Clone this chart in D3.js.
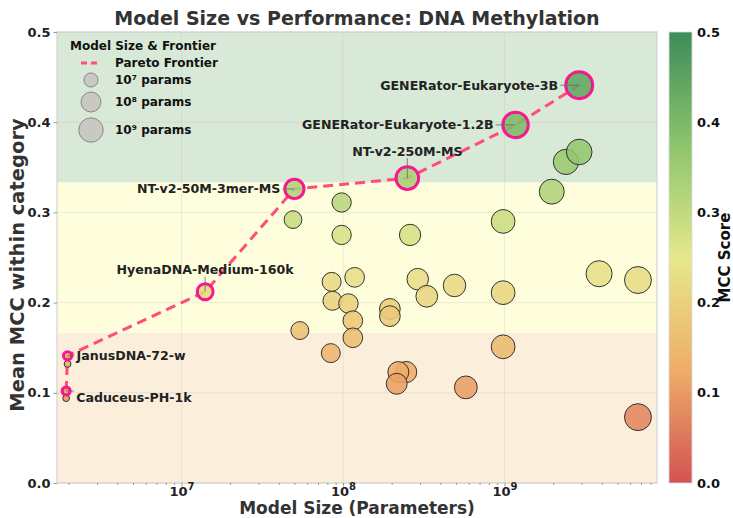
<!DOCTYPE html>
<html>
<head>
<meta charset="utf-8">
<script src="https://cdn.jsdelivr.net/npm/d3@7"></script>
<style>
  body { margin: 0; background: #fff; }
  text { font-family: "DejaVu Sans", sans-serif; font-weight: bold; }
</style>
</head>
<body>
<svg width="733" height="518"></svg>
<script>
// data: parameters and mean MCC
var otherParams = [4.9e7, 9.8e7, 9.8e7, 2.6e8, 9.8e8, 1.96e9, 2.4e9, 2.9e9,
    8.5e7, 1.18e8, 2.9e8, 4.9e8, 3.3e8, 9.8e8, 8.6e7, 1.08e8, 1.15e8, 1.95e8,
    1.95e8, 5.4e7, 1.15e8, 8.4e7, 9.8e8, 2.46e8, 2.2e8, 2.15e8, 5.76e8,
    3.85e9, 6.7e9, 6.7e9, 1.93e6, 1.97e6];
var otherMcc = [0.292, 0.311, 0.275, 0.275, 0.290, 0.323, 0.356, 0.367,
    0.223, 0.228, 0.226, 0.219, 0.207, 0.211, 0.202, 0.199, 0.180, 0.193,
    0.185, 0.169, 0.161, 0.144, 0.151, 0.123, 0.123, 0.110, 0.106,
    0.232, 0.225, 0.073, 0.094, 0.132];

var frontierNames = ["Caduceus-PH-1k", "JanusDNA-72-w", "HyenaDNA-Medium-160k",
    "NT-v2-50M-3mer-MS", "NT-v2-250M-MS", "GENERator-Eukaryote-1.2B", "GENERator-Eukaryote-3B"];
var frontierParams = [1.93e6, 1.97e6, 1.4e7, 5e7, 2.5e8, 1.17e9, 2.9e9];
var frontierMcc = [0.102, 0.141, 0.212, 0.326, 0.338, 0.397, 0.441];

var yTicks = [0, 0.1, 0.2, 0.3, 0.4, 0.5];
var xTicks = [1e7, 1e8, 1e9];
var legendSizes = [1e7, 1e8, 1e9];
var bandEdges = [0, 1/6, 1/3, 0.5];
var bandColors = ["#fbefdc", "#fefedd", "#d9e9d7"];

var svg = d3.select("svg");
var L = 57, R = 657, T = 32, B = 483;

var x = d3.scaleLog().domain([1.694e6, 8.79e9]).range([L, R]);
var y = d3.scaleLinear().domain([0, 0.5]).range([B, T]);
// bubble area grows with log10(params) above ~10^6
var r = d3.scaleSqrt().domain([0, 3.95]).range([0, Math.sqrt(48 * 3.95)]);
var color = d3.scaleLinear()
    .domain([0, 0.125, 0.25, 0.375, 0.5])
    .range(["#d35252", "#eead68", "#e6e88c", "#8cc46c", "#3d8c5a"]);

function rad(p) { return r(Math.max(0, Math.log10(p) - 6.05)); }

// background bands
svg.append("g").selectAll("rect")
    .data(bandColors)
    .enter()
    .append("rect")
    .attr("x", L)
    .attr("width", R - L)
    .attr("y", function(d, i) { return y(bandEdges[i + 1]); })
    .attr("height", function(d, i) { return y(bandEdges[i]) - y(bandEdges[i + 1]); })
    .style("fill", function(d) { return d; });

// grid
var grid = svg.append("g").style("stroke", "#b8b8b8").style("stroke-opacity", 0.35).style("stroke-width", 0.8);
grid.selectAll("line.gy").data(yTicks).enter().append("line")
    .attr("x1", L).attr("x2", R)
    .attr("y1", function(d) { return y(d); }).attr("y2", function(d) { return y(d); });
grid.selectAll("line.gx").data(xTicks).enter().append("line")
    .attr("y1", T).attr("y2", B)
    .attr("x1", function(d) { return x(d); }).attr("x2", function(d) { return x(d); });

// frame
svg.append("rect")
    .attr("x", L).attr("y", T).attr("width", R - L).attr("height", B - T)
    .style("fill", "none").style("stroke", "#cccccc").style("stroke-width", 1);

// y axis
var yAxis = svg.append("g")
    .attr("transform", "translate(" + L + ",0)")
    .call(d3.axisLeft(y).tickValues(yTicks).tickFormat(d3.format(".1f")).tickSize(3.5).tickPadding(3));
yAxis.select(".domain").remove();
yAxis.selectAll("line").style("stroke", "#999");
yAxis.selectAll("text").style("font-size", "13px").style("fill", "#222").style("font-family", "DejaVu Sans").style("font-weight", "bold");

// x axis with minor ticks
var minor = [];
for (var e = 6; e <= 9; e++) {
    for (var m = 2; m <= 9; m++) {
        var v = m * Math.pow(10, e);
        if (v > x.domain()[0] && v < x.domain()[1]) minor.push(v);
    }
}
var xMinor = svg.append("g")
    .attr("transform", "translate(0," + B + ")")
    .call(d3.axisBottom(x).tickValues(minor).tickFormat("").tickSize(2));
xMinor.select(".domain").remove();
xMinor.selectAll("line").style("stroke", "#999");

var xAxis = svg.append("g")
    .attr("transform", "translate(0," + B + ")")
    .call(d3.axisBottom(x).tickValues(xTicks).tickFormat("").tickSize(3.5));
xAxis.select(".domain").remove();
xAxis.selectAll("line").style("stroke", "#999");
var xLab = xAxis.selectAll(".tick").append("text")
    .attr("y", 12.5)
    .attr("text-anchor", "middle")
    .style("fill", "#222")
    .style("font-size", "13px");
xLab.append("tspan").text("10");
xLab.append("tspan")
    .attr("dy", -6)
    .style("font-size", "10px")
    .text(function(d) { return Math.round(Math.log10(d)); });

// frontier line
var line = d3.line()
    .x(function(d) { return x(d[0]); })
    .y(function(d) { return y(d[1]); });
svg.append("path")
    .datum(d3.zip(frontierParams, frontierMcc))
    .attr("d", line)
    .style("fill", "none")
    .style("stroke", "#ff4d79")
    .style("stroke-width", 3)
    .style("stroke-dasharray", "10,6");

// bubbles
var allParams = otherParams.concat(frontierParams);
var allMcc = otherMcc.concat(frontierMcc);
svg.append("g").selectAll("circle")
    .data(d3.zip(allParams, allMcc))
    .enter()
    .append("circle")
    .attr("cx", function(d) { return x(d[0]); })
    .attr("cy", function(d) { return y(d[1]); })
    .attr("r", function(d) { return rad(d[0]); })
    .style("fill", function(d) { return color(d[1]); })
    .style("fill-opacity", 0.88)
    .style("stroke", "#333")
    .style("stroke-width", 1);

// frontier rings
svg.append("g").selectAll("circle")
    .data(d3.zip(frontierParams, frontierMcc))
    .enter()
    .append("circle")
    .attr("cx", function(d) { return x(d[0]); })
    .attr("cy", function(d) { return y(d[1]); })
    .attr("r", function(d) { return rad(d[0]) + 0.8; })
    .style("fill", "none")
    .style("stroke", "#ff1493")
    .style("stroke-width", 2.8);

// annotations: offsets of label from point (dx, dy, anchor)
var labelOffsets = [[10, 7, "start"], [9, 0, "start"], [0, -22, "middle"],
    [-14, 0, "end"], [0, -27, "middle"], [-22, 0, "end"], [-21, 0, "end"]];
var ann = svg.append("g");
frontierNames.forEach(function(name, i) {
    var px = x(frontierParams[i]), py = y(frontierMcc[i]);
    var o = labelOffsets[i];
    var tx = px + o[0], ty = py + o[1];
    var lx = o[2] == "middle" ? tx : tx + (o[2] == "end" ? 2 : -2);
    var ly = o[2] == "middle" ? ty + 7 : ty;
    if (i == 0) ly = py;
    ann.append("line")
        .attr("x1", px).attr("y1", py).attr("x2", lx).attr("y2", ly)
        .style("stroke", "#666").style("stroke-width", 0.8);
    ann.append("text")
        .attr("x", tx).attr("y", ty)
        .attr("dy", "0.35em")
        .attr("text-anchor", o[2])
        .style("font-size", "12.6px")
        .style("fill", "#222")
        .text(name);
});

// legend
var leg = svg.append("g").attr("transform", "translate(91,0)");
leg.append("text").attr("x", -21).attr("y", 46).attr("dy", "0.35em")
    .style("font-size", "12px").style("fill", "#111").text("Model Size & Frontier");
leg.append("line").attr("x1", -10).attr("x2", 10).attr("y1", 63).attr("y2", 63)
    .style("stroke", "#ff4d79").style("stroke-width", 3).style("stroke-dasharray", "6,4");
leg.append("text").attr("x", 24).attr("y", 63).attr("dy", "0.35em")
    .style("font-size", "12px").style("fill", "#111").text("Pareto Frontier");
var legY = [80, 102, 130];
var sup = {7: "\u2077", 8: "\u2078", 9: "\u2079"};
leg.selectAll("circle.size")
    .data(legendSizes)
    .enter()
    .append("circle")
    .attr("cx", 0)
    .attr("cy", function(d, i) { return legY[i]; })
    .attr("r", function(d) { return rad(d) + 0.3; })
    .style("fill", "#c8c9c2")
    .style("stroke", "#888")
    .style("stroke-width", 1);
leg.selectAll("text.size")
    .data(legendSizes)
    .enter()
    .append("text")
    .attr("x", 24)
    .attr("y", function(d, i) { return legY[i]; })
    .attr("dy", "0.35em")
    .style("font-size", "12px")
    .style("fill", "#111")
    .text(function(d) { return "10" + sup[Math.round(Math.log10(d))] + " params"; });

// colorbar
var cbX = 669, cbW = 23;
var grad = svg.append("defs").append("linearGradient")
    .attr("id", "cb").attr("x1", 0).attr("y1", 1).attr("x2", 0).attr("y2", 0);
grad.selectAll("stop")
    .data(color.domain())
    .enter()
    .append("stop")
    .attr("offset", function(d) { return d / 0.5; })
    .attr("stop-color", function(d) { return color(d); });
svg.append("rect")
    .attr("x", cbX).attr("y", T).attr("width", cbW).attr("height", B - T)
    .style("fill", "url(#cb)").style("stroke", "#ddd").style("stroke-width", 0.8);
var cbAxis = svg.append("g")
    .attr("transform", "translate(" + (cbX + cbW) + ",0)")
    .call(d3.axisRight(y).tickValues(yTicks).tickFormat(d3.format(".1f")).tickSize(0).tickPadding(5));
cbAxis.select(".domain").remove();
cbAxis.selectAll("text").style("font-size", "13px").style("fill", "#111").style("font-family", "DejaVu Sans").style("font-weight", "bold");
svg.append("text")
    .attr("transform", "translate(730," + ((T + B) / 2) + ") rotate(-90)")
    .attr("text-anchor", "middle")
    .style("font-size", "15px")
    .style("fill", "#111")
    .text("MCC Score");

// titles
svg.append("text")
    .attr("x", (L + R) / 2).attr("y", 25)
    .attr("text-anchor", "middle")
    .style("font-size", "19px")
    .style("fill", "#333")
    .text("Model Size vs Performance: DNA Methylation");
svg.append("text")
    .attr("x", (L + R) / 2).attr("y", 514)
    .attr("text-anchor", "middle")
    .style("font-size", "17px")
    .style("fill", "#333")
    .text("Model Size (Parameters)");
svg.append("text")
    .attr("transform", "translate(24,265) rotate(-90)")
    .attr("text-anchor", "middle")
    .style("font-size", "19.5px")
    .style("fill", "#333")
    .text("Mean MCC within category");
</script>
</body>
</html>
